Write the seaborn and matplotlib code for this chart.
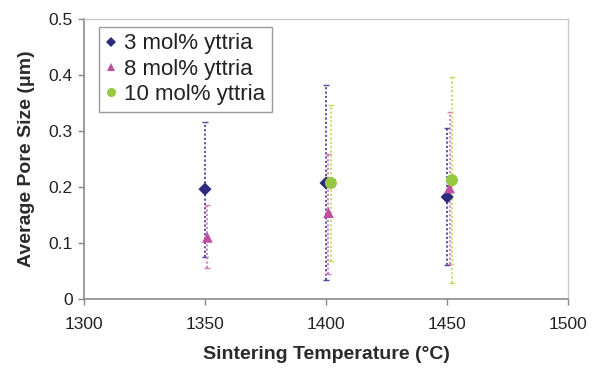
import matplotlib
matplotlib.use("Agg")
import matplotlib.pyplot as plt
import seaborn as sns
import pandas as pd
from matplotlib.lines import Line2D

# Data
series = ["3 mol% yttria", "8 mol% yttria", "10 mol% yttria"]
temp_3 = [1350, 1400, 1450]
mean_3 = [0.196, 0.207, 0.182]
low_3 = [0.075, 0.034, 0.060]
high_3 = [0.316, 0.382, 0.305]

temp_8 = [1351, 1401, 1451]
mean_8 = [0.110, 0.154, 0.198]
low_8 = [0.055, 0.045, 0.063]
high_8 = [0.168, 0.258, 0.333]

temp_10 = [1402, 1452]
mean_10 = [0.207, 0.212]
low_10 = [0.068, 0.029]
high_10 = [0.346, 0.396]

xticks = [1300, 1350, 1400, 1450, 1500]
yticks = [0, 0.1, 0.2, 0.3, 0.4, 0.5]
ytick_labels = ["0", "0.1", "0.2", "0.3", "0.4", "0.5"]

rows = []
for name, t, m, lo, hi in [(series[0], temp_3, mean_3, low_3, high_3),
                           (series[1], temp_8, mean_8, low_8, high_8),
                           (series[2], temp_10, mean_10, low_10, high_10)]:
    for a, b, c, d in zip(t, m, lo, hi):
        rows.append({"series": name, "temp": a, "mean": b, "low": c, "high": d})
df = pd.DataFrame(rows)

sns.set_theme(style="white")
plt.rcParams["font.family"] = ["Liberation Sans", "DejaVu Sans"]

marker_colors = {series[0]: "#2B2A7C", series[1]: "#C0509F", series[2]: "#94C940"}
err_colors = {series[0]: "#4A48A0", series[1]: "#D77BB8", series[2]: "#C9D862"}
markers = {series[0]: "D", series[1]: "^", series[2]: "o"}
msizes = {series[0]: 45, series[1]: 60, series[2]: 75}

fig = plt.figure(figsize=(5.95, 3.70), dpi=100)
ax = fig.add_axes([0.141, 0.192, 0.814, 0.757])

for name in series:
    sub = df[df["series"] == name]
    ax.errorbar(sub["temp"], sub["mean"],
                yerr=[sub["mean"] - sub["low"], sub["high"] - sub["mean"]],
                fmt="none", ecolor=err_colors[name], elinewidth=1.3,
                capsize=2.2, capthick=1.0, zorder=2)
    ax.collections[-1].set_linestyle((0, (1.2, 1.2)))

sns.scatterplot(data=df, x="temp", y="mean", hue="series", style="series",
                hue_order=series, style_order=series,
                palette=marker_colors, markers=markers, size="series",
                sizes=msizes, size_order=series,
                edgecolor="none", linewidth=0, ax=ax, zorder=3, legend=False)

handles = [Line2D([], [], marker=markers[n], color=marker_colors[n], linestyle="none",
                  markersize={series[0]: 5, series[1]: 6, series[2]: 6.5}[n],
                  markeredgewidth=0) for n in series]
leg = ax.legend(handles, series, loc="upper left", bbox_to_anchor=(0.031, 0.972),
                frameon=True, fancybox=False, fontsize=16, handlelength=0.5,
                handletextpad=0.35, borderpad=0.3, labelspacing=0.2,
                borderaxespad=0.0)
leg.get_frame().set_edgecolor("#808080")
leg.get_frame().set_linewidth(1.0)
for t in leg.get_texts():
    t.set_color("#222222")

ax.set_xlim(1300, 1500)
ax.set_ylim(0, 0.5)
ax.set_xticks(xticks)
ax.set_yticks(yticks)
ax.set_yticklabels(ytick_labels)
ax.tick_params(axis="both", which="major", direction="out", length=4, width=1,
               color="#888888", labelsize=12.5, labelcolor="#222222",
               bottom=True, left=True, top=False, right=False)
ax.tick_params(axis="x", pad=9)
ax.tick_params(axis="y", pad=4)

for s in ["left", "bottom"]:
    ax.spines[s].set_color("#8C8C8C")
    ax.spines[s].set_linewidth(1.2)
for s in ["top", "right"]:
    ax.spines[s].set_color("#C8C8C8")
    ax.spines[s].set_linewidth(1.0)

ax.set_xlabel("Sintering Temperature (°C)", fontsize=14, fontweight="bold",
              color="#2A2A2A", labelpad=10)
ax.set_ylabel("Average Pore Size (μm)", fontsize=14, fontweight="bold",
              color="#2A2A2A", labelpad=10)

fig.savefig("out.png", dpi=100, facecolor="white")
